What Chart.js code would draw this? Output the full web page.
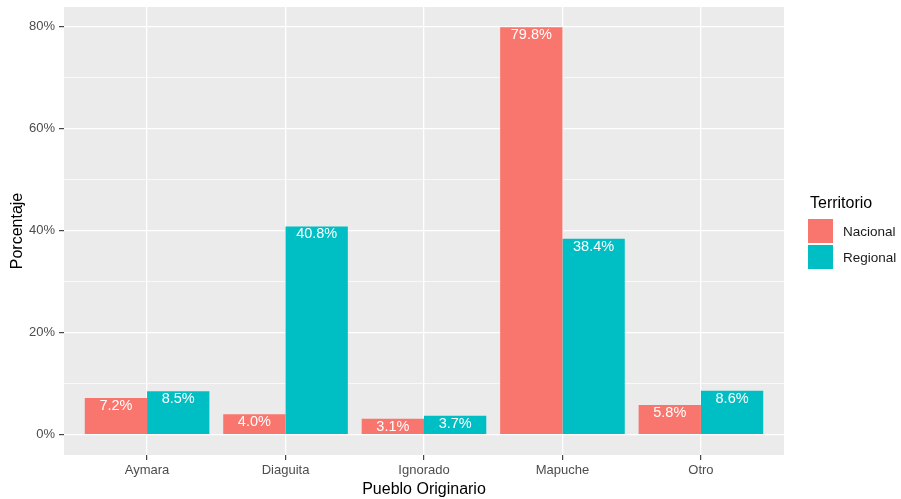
<!DOCTYPE html>
<html><head><meta charset="utf-8">
<script src="https://cdn.jsdelivr.net/npm/chart.js@4"></script>
<style>html,body{margin:0;padding:0;background:#fff;}</style>
</head><body>
<canvas id="c" width="901" height="499" style="display:block;width:901px;height:499px"></canvas>
<script>
const categories = ['Aymara', 'Diaguita', 'Ignorado', 'Mapuche', 'Otro'];
const seriesNames = ['Nacional', 'Regional'];
const nacional = [7.2, 4.0, 3.1, 79.8, 5.8];
const regional = [8.5, 40.8, 3.7, 38.4, 8.6];
const yTickValues = [0, 10, 20, 30, 40, 50, 60, 70, 80];
const yTickLabels = {0: '0%', 20: '20%', 40: '40%', 60: '60%', 80: '80%'};
const seriesColors = ['#F8766D', '#00BFC4'];

const FAMILY = '"Liberation Sans", Arial, sans-serif';
const allVals = nacional.concat(regional, [0]);
const dataMax = Math.max(...allVals), dataMin = Math.min(...allVals);
const expand = (dataMax - dataMin) * 0.05;
const yMin = dataMin - expand, yMax = dataMax + expand;

const bgPlugin = {
  id: 'bg',
  beforeDraw(chart) {
    const {ctx, chartArea: a} = chart;
    ctx.save();
    ctx.fillStyle = '#FFFFFF';
    ctx.fillRect(0, 0, chart.width, chart.height);
    ctx.fillStyle = '#EBEBEB';
    ctx.fillRect(a.left, a.top, a.right - a.left, a.bottom - a.top);
    ctx.restore();
  }
};

const labelPlugin = {
  id: 'barLabels',
  afterDatasetsDraw(chart) {
    const ctx = chart.ctx;
    ctx.save();
    ctx.fillStyle = '#FFFFFF';
    ctx.font = '14.5px ' + FAMILY;
    ctx.textAlign = 'center';
    ctx.textBaseline = 'middle';
    chart.data.datasets.forEach((ds, di) => {
      const meta = chart.getDatasetMeta(di);
      meta.data.forEach((bar, i) => {
        const v = ds.data[i].y;
        ctx.fillText(v.toFixed(1) + '%', bar.x, bar.y + 8);
      });
    });
    ctx.restore();
  }
};

const legendPlugin = {
  id: 'ggLegend',
  afterDraw(chart) {
    const ctx = chart.ctx;
    const a = chart.chartArea;
    const x0 = a.right + 24;
    const yc = (a.top + a.bottom) / 2;
    ctx.save();
    ctx.fillStyle = '#000';
    ctx.font = '16px ' + FAMILY;
    ctx.textAlign = 'left';
    ctx.textBaseline = 'middle';
    ctx.fillText('Territorio', x0 + 2, yc - 27);
    seriesNames.forEach((name, i) => {
      const ky = yc - 12 + i * 26;
      ctx.fillStyle = seriesColors[i];
      ctx.fillRect(x0, ky, 25, 24);
      ctx.fillStyle = '#1A1A1A';
      ctx.font = '13.5px ' + FAMILY;
      ctx.fillText(name, x0 + 35, ky + 13);
    });
    ctx.restore();
  }
};

new Chart(document.getElementById('c'), {
  type: 'bar',
  data: {
    datasets: [
      {label: seriesNames[0], data: categories.map((c, i) => ({x: i, y: nacional[i]})),
       backgroundColor: seriesColors[0], borderWidth: 0, categoryPercentage: 0.9, barPercentage: 1.0},
      {label: seriesNames[1], data: categories.map((c, i) => ({x: i, y: regional[i]})),
       backgroundColor: seriesColors[1], borderWidth: 0, categoryPercentage: 0.9, barPercentage: 1.0}
    ]
  },
  options: {
    responsive: false,
    animation: false,
    devicePixelRatio: 1,
    layout: {padding: {left: 0, top: 7, right: 117, bottom: 0}},
    plugins: {legend: {display: false}, tooltip: {enabled: false}},
    scales: {
      x: {
        type: 'linear',
        min: -0.6,
        max: categories.length - 1 + 0.6,
        offset: false,
        afterBuildTicks: s => { s.ticks = categories.map((c, i) => ({value: i})); },
        afterFit: s => { s.height = 44; s.paddingLeft = 0; s.paddingRight = 0; s.paddingTop = 0; s.paddingBottom = 0; },
        grid: {offset: false, color: '#FFFFFF', lineWidth: 1.3, tickColor: '#333333', tickLength: 5, tickWidth: 1.1},
        border: {display: false},
        ticks: {autoSkip: false, maxRotation: 0, padding: 3, color: '#4D4D4D',
                font: {family: FAMILY, size: 13}, callback: v => categories[v] ?? ''},
        title: {display: true, text: 'Pueblo Originario', color: '#000',
                font: {family: FAMILY, size: 16}, padding: {top: 0, bottom: 0}}
      },
      y: {
        type: 'linear',
        min: yMin,
        max: yMax,
        afterBuildTicks: s => { s.ticks = yTickValues.map(v => ({value: v})); },
        afterFit: s => { s.width = 64; s.paddingTop = 0; s.paddingBottom = 0; s.paddingLeft = 0; s.paddingRight = 0; },
        grid: {
          color: '#FFFFFF',
          lineWidth: ctx => (ctx.tick && ctx.tick.value % 20 === 0) ? 1.3 : 0.7,
          tickColor: ctx => (ctx.tick && ctx.tick.value % 20 === 0) ? '#333333' : 'rgba(0,0,0,0)',
          tickLength: 5, tickWidth: 1.1
        },
        border: {display: false},
        ticks: {autoSkip: false, padding: 4, color: '#4D4D4D',
                font: {family: FAMILY, size: 13}, callback: v => yTickLabels[v] ?? ''},
        title: {display: true, text: 'Porcentaje', color: '#000',
                font: {family: FAMILY, size: 16}, padding: {top: 8, bottom: 0}}
      }
    }
  },
  plugins: [bgPlugin, labelPlugin, legendPlugin]
});
</script>
</body></html>
